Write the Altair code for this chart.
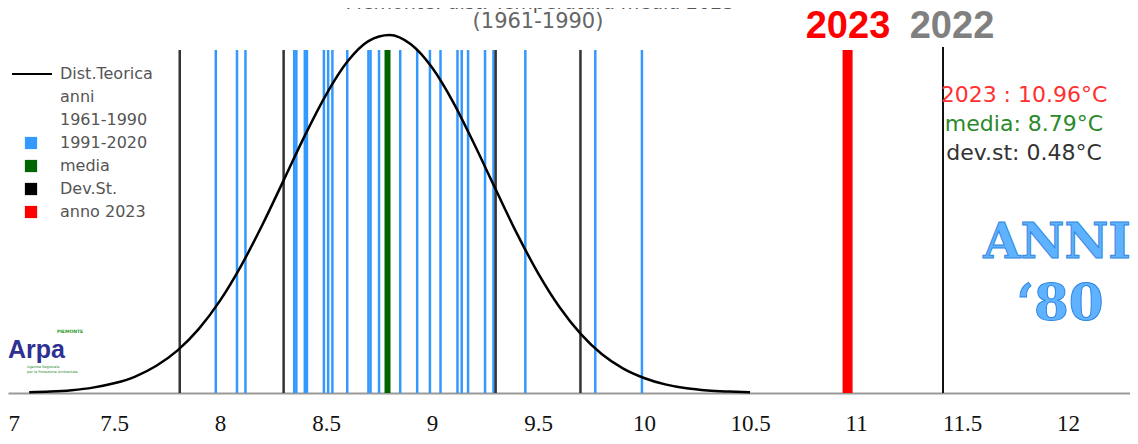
import altair as alt
import pandas as pd

# ---- data ----
blue_vals = [7.98, 8.08, 8.12, 8.35, 8.36, 8.40, 8.41, 8.49, 8.51, 8.53, 8.60,
             8.70, 8.71, 8.75, 8.85, 8.93, 8.99, 9.04, 9.12, 9.14, 9.17, 9.25,
             9.29, 9.44, 9.77, 9.99]
dev_vals = [7.81, 8.30, 9.30, 9.70]
media_val = [8.79]
anno2023_val = [10.96]
anno2022_val = [11.41]

curve_x = [7.1, 7.2, 7.3, 7.4, 7.5, 7.6, 7.7, 7.8, 7.9, 8.0, 8.1, 8.2, 8.3, 8.4,
           8.5, 8.6, 8.7, 8.8, 8.9, 9.0, 9.1, 9.2, 9.3, 9.4, 9.5, 9.6, 9.7, 9.8,
           9.9, 10.0, 10.1, 10.2, 10.3, 10.4, 10.5]
curve_y = [0.002, 0.004, 0.008, 0.015, 0.027, 0.046, 0.076, 0.119, 0.179, 0.258,
           0.356, 0.470, 0.594, 0.719, 0.833, 0.925, 0.983, 1.000, 0.974, 0.909,
           0.812, 0.694, 0.569, 0.446, 0.335, 0.241, 0.166, 0.109, 0.069, 0.042,
           0.024, 0.013, 0.007, 0.004, 0.002]

tick_vals = [7, 7.5, 8, 8.5, 9, 9.5, 10, 10.5, 11, 11.5, 12]

legend_labels = ["Dist.Teorica", "anni", "1961-1990", "1991-2020", "media",
                 "Dev.St.", "anno 2023"]
legend_colors = [None, None, None, "#3399ff", "#006400", "#000000", "#ff0000"]

title1 = "Piemonte: dist. Temperatura media 2023"
title2 = "(1961-1990)"
info_lines = ["2023 : 10.96°C", "media: 8.79°C", "dev.st: 0.48°C"]
info_colors = ["#ff3030", "#2a8a2a", "#333333"]

W, H = 1122, 385
xscale = alt.Scale(domain=[7.0, 12.292], nice=False, zero=False)
xaxis = alt.Axis(
    values=tick_vals, format="~g", title=None, grid=False, ticks=False,
    domainColor="#999999", domainWidth=2, labelFont="Liberation Serif",
    labelFontSize=23, labelColor="#111111", labelPadding=19,
    labelFlush=True)
TOP = 42

def vrules(vals, color, width, top=TOP):
    return alt.Chart(pd.DataFrame({"v": vals})).mark_rule(
        color=color, strokeWidth=width
    ).encode(
        x=alt.X("v:Q", scale=xscale, axis=xaxis),
        y=alt.value(top), y2=alt.value(H)
    )

def txt(s, x, y, size, color, font="DejaVu Sans", weight="normal",
        align="center", baseline="middle", **kw):
    return alt.Chart(pd.DataFrame({"t": [s]})).mark_text(
        font=font, fontSize=size, color=color, fontWeight=weight,
        align=align, baseline=baseline, **kw
    ).encode(text="t:N", x=alt.value(x), y=alt.value(y))

curve = alt.Chart(pd.DataFrame({"x": curve_x, "y": curve_y})).mark_line(
    color="black", strokeWidth=2.5, interpolate="monotone"
).encode(
    x=alt.X("x:Q", scale=xscale, axis=xaxis),
    y=alt.Y("y:Q", scale=alt.Scale(domain=[0, 1.0754], nice=False), axis=None)
)

layers = [
    vrules(blue_vals, "#3399ff", 2.5),
    vrules(dev_vals, "#333333", 2.5),
    vrules(media_val, "#006400", 6),
    vrules(anno2023_val, "#ff0000", 10),
    vrules(anno2022_val, "#111111", 2, top=39),
    curve,
]

# titles (the first line is cut by the top edge, as in the original)
layers.append(txt(title1, 532, 1, 19, "#555555", baseline="alphabetic"))
layers.append(txt(title2, 530, 14, 21, "#666666"))
layers.append(txt("2023", 840, 30, 38, "#ff0000", font="Liberation Sans",
                  weight="bold", baseline="alphabetic"))
layers.append(txt("2022", 944, 30, 38, "#808080", font="Liberation Sans",
                  weight="bold", baseline="alphabetic"))

# right info
for i, (s, c) in enumerate(zip(info_lines, info_colors)):
    layers.append(txt(s, 1016, 87 + i * 29, 22, c))

# ANNI '80
layers.append(txt("ANNI", 1049, 250, 48, "#5fb2ff", font="DejaVu Serif",
                  weight="bold", baseline="alphabetic", stroke="#2f86e0",
                  strokeWidth=1))
layers.append(txt("\u201880", 1052, 312, 50, "#5fb2ff", font="DejaVu Serif",
                  weight="bold", baseline="alphabetic", stroke="#2f86e0",
                  strokeWidth=1))

# legend
for i, (s, c) in enumerate(zip(legend_labels, legend_colors)):
    y = 66 + i * 23
    layers.append(txt(s, 52, y, 16, "#555555", align="left"))
    if c is not None:
        layers.append(alt.Chart(pd.DataFrame({"c": [c]})).mark_square(
            size=150, color=c, opacity=1
        ).encode(x=alt.value(23), y=alt.value(y)))
layers.append(alt.Chart(pd.DataFrame({"c": [1]})).mark_rule(
    color="black", strokeWidth=2
).encode(x=alt.value(4), x2=alt.value(44), y=alt.value(66)))

# logo
layers.append(txt("PIEMONTE", 62, 324, 4.5, "#2a9a2a", weight="bold"))
layers.append(txt("Arpa", 0, 350, 25, "#2e3192", font="Liberation Sans",
                  weight="bold", align="left", baseline="alphabetic"))
layers.append(txt("Agenzia Regionale", 19, 360, 3.5, "#2a8a2a",
                  align="left", baseline="alphabetic"))
layers.append(txt("per la Protezione Ambientale", 19, 365, 3.5, "#2a8a2a",
                  align="left", baseline="alphabetic"))

chart = alt.layer(*layers).properties(
    width=W, height=H,
    background="white",
    autosize=alt.AutoSizeParams(type="none"),
    padding={"left": 0, "top": 0, "right": 0, "bottom": 43},
).configure_view(stroke=None)

chart.save("out.html", embed_options={"renderer": "svg", "actions": False})
